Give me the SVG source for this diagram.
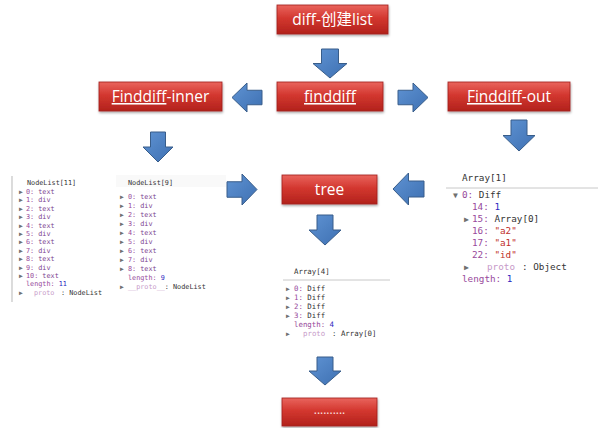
<svg xmlns="http://www.w3.org/2000/svg" width="600" height="428" viewBox="0 0 600 428">
<defs>
<linearGradient id="red" x1="0" y1="0" x2="0" y2="1">
<stop offset="0" stop-color="#e9645d"/>
<stop offset="0.45" stop-color="#d3372f"/>
<stop offset="1" stop-color="#b2221c"/>
</linearGradient>
<linearGradient id="blue" x1="0" y1="0" x2="1" y2="1">
<stop offset="0" stop-color="#5f93d3"/>
<stop offset="1" stop-color="#3e70b2"/>
</linearGradient>
<filter id="sh" x="-10%" y="-20%" width="120%" height="150%">
<feDropShadow dx="0.5" dy="1.5" stdDeviation="1.2" flood-color="#000" flood-opacity="0.35"/>
</filter>
</defs>
<style>
.box{fill:url(#red);stroke:#a11e19;stroke-width:0.8;filter:url(#sh)}
.lbl{font-family:"Open Sans","Noto Sans CJK SC",sans-serif;font-size:15.5px;fill:#fff;text-anchor:middle}
.arr{fill:url(#blue);stroke:#385d8a;stroke-width:1}
.mono{font-family:"DejaVu Sans Mono","Liberation Mono",monospace;fill:#333}
.s{font-size:6.8px}
.m{font-size:7.4px}
.l{font-size:9.3px}
.tri{fill:#707070}
.s .tri,.m .tri{font-size:6.5px}
.l .tri{font-size:8px}
.k{fill:#97499b}
.v{fill:#7d3f90}
.n{fill:#2a1fc0}
.str{fill:#c0302a}
.p{fill:#c79ac9}
.sep{stroke:#c8c8c8;stroke-width:1}
</style>
<rect width="600" height="428" fill="#fff"/>

<g id="connectors">
<path class="arr" d="M321.5,49 H338.5 V63.5 H347 L330,78 L313,63.5 H321.5 Z"/>
<path class="arr" d="M262,90.25 H247 V83 L232,97.5 L247,112 V104.75 H262 Z"/>
<path class="arr" d="M398,90.25 H413 V83 L428,97.5 L413,112 V104.75 H398 Z"/>
<path class="arr" d="M150.5,132 H165.5 V147 H173 L158,162 L143,147 H150.5 Z"/>
<path class="arr" d="M511,120 H527 V135.5 H535 L519,151 L503,135.5 H511 Z"/>
<path class="arr" d="M227,181.75 H242 V174 L257,189.5 L242,205 V197.25 H227 Z"/>
<path class="arr" d="M424,181 H408.5 V173 L393,189 L408.5,205 V197 H424 Z"/>
<path class="arr" d="M317,215 H333 V230 H341 L325,245 L309,230 H317 Z"/>
<path class="arr" d="M317,357 H333 V371 H341 L325,385 L309,371 H317 Z"/>
</g>

<g id="node-diff-create">
<rect class="box" x="277" y="5" width="111" height="29"/>
<text class="lbl" x="332.5" y="25">diff-创建list</text>
</g>
<g id="node-finddiff-inner">
<rect class="box" x="99" y="82" width="123" height="29"/>
<text class="lbl" x="160.5" y="102"><tspan text-decoration="underline">Finddiff</tspan>-inner</text>
</g>
<g id="node-finddiff">
<rect class="box" x="277" y="82" width="106" height="29"/>
<text class="lbl" x="330" y="102"><tspan text-decoration="underline">finddiff</tspan></text>
</g>
<g id="node-finddiff-out">
<rect class="box" x="448" y="82" width="122" height="29"/>
<text class="lbl" x="509" y="102"><tspan text-decoration="underline">Finddiff</tspan>-out</text>
</g>
<g id="node-tree">
<rect class="box" x="282" y="175" width="95" height="29"/>
<text class="lbl" x="329.5" y="195">tree</text>
</g>
<g id="node-more">
<rect class="box" x="282" y="398" width="95" height="28"/>
<text class="lbl" x="329.5" y="414" style="font-size:12px;fill:#fbe3e3">..........</text>
</g>

<g id="node-nodelist11" class="mono s">
<line x1="12" y1="176" x2="12" y2="302" stroke="#c4c4c4" stroke-width="1.2"/>
<text x="27" y="185">NodeList[11]</text>
<text x="19" y="194.0"><tspan class="tri">▶</tspan><tspan x="26" class="k">0:</tspan><tspan class="v"> text</tspan></text>
<text x="19" y="202.4"><tspan class="tri">▶</tspan><tspan x="26" class="k">1:</tspan><tspan class="v"> div</tspan></text>
<text x="19" y="210.8"><tspan class="tri">▶</tspan><tspan x="26" class="k">2:</tspan><tspan class="v"> text</tspan></text>
<text x="19" y="219.2"><tspan class="tri">▶</tspan><tspan x="26" class="k">3:</tspan><tspan class="v"> div</tspan></text>
<text x="19" y="227.6"><tspan class="tri">▶</tspan><tspan x="26" class="k">4:</tspan><tspan class="v"> text</tspan></text>
<text x="19" y="236.0"><tspan class="tri">▶</tspan><tspan x="26" class="k">5:</tspan><tspan class="v"> div</tspan></text>
<text x="19" y="244.4"><tspan class="tri">▶</tspan><tspan x="26" class="k">6:</tspan><tspan class="v"> text</tspan></text>
<text x="19" y="252.8"><tspan class="tri">▶</tspan><tspan x="26" class="k">7:</tspan><tspan class="v"> div</tspan></text>
<text x="19" y="261.2"><tspan class="tri">▶</tspan><tspan x="26" class="k">8:</tspan><tspan class="v"> text</tspan></text>
<text x="19" y="269.6"><tspan class="tri">▶</tspan><tspan x="26" class="k">9:</tspan><tspan class="v"> div</tspan></text>
<text x="19" y="278.0"><tspan class="tri">▶</tspan><tspan x="26" class="k">10:</tspan><tspan class="v"> text</tspan></text>
<text x="26" y="286.4"><tspan class="k">length:</tspan><tspan class="n"> 11</tspan></text>
<text x="19" y="294.8"><tspan class="tri">▶</tspan><tspan x="34" class="p">proto</tspan><tspan x="57"> : NodeList</tspan></text>
</g>

<g id="node-nodelist9" class="mono s">
<rect x="116" y="175" width="110" height="12" fill="#f9f9f9"/>
<text x="128" y="185">NodeList[9]</text>
<text x="120" y="199"><tspan class="tri">▶</tspan><tspan x="128" class="k">0:</tspan><tspan class="v"> text</tspan></text>
<text x="120" y="208"><tspan class="tri">▶</tspan><tspan x="128" class="k">1:</tspan><tspan class="v"> div</tspan></text>
<text x="120" y="217"><tspan class="tri">▶</tspan><tspan x="128" class="k">2:</tspan><tspan class="v"> text</tspan></text>
<text x="120" y="226"><tspan class="tri">▶</tspan><tspan x="128" class="k">3:</tspan><tspan class="v"> div</tspan></text>
<text x="120" y="235"><tspan class="tri">▶</tspan><tspan x="128" class="k">4:</tspan><tspan class="v"> text</tspan></text>
<text x="120" y="244"><tspan class="tri">▶</tspan><tspan x="128" class="k">5:</tspan><tspan class="v"> div</tspan></text>
<text x="120" y="253"><tspan class="tri">▶</tspan><tspan x="128" class="k">6:</tspan><tspan class="v"> text</tspan></text>
<text x="120" y="262"><tspan class="tri">▶</tspan><tspan x="128" class="k">7:</tspan><tspan class="v"> div</tspan></text>
<text x="120" y="271"><tspan class="tri">▶</tspan><tspan x="128" class="k">8:</tspan><tspan class="v"> text</tspan></text>
<text x="128" y="280"><tspan class="k">length:</tspan><tspan class="n"> 9</tspan></text>
<text x="120" y="289"><tspan class="tri">▶</tspan><tspan x="128" class="p">__proto__</tspan><tspan>: NodeList</tspan></text>
</g>

<g id="node-array1" class="mono l">
<text x="462" y="181">Array[1]</text>
<line class="sep" x1="446" y1="188" x2="598" y2="188"/>
<text x="453" y="198"><tspan class="tri">▼</tspan><tspan x="462" class="k">0:</tspan><tspan> Diff</tspan></text>
<text x="472" y="210"><tspan class="k">14:</tspan><tspan class="n"> 1</tspan></text>
<text x="464" y="222"><tspan class="tri">▶</tspan><tspan x="472" class="k">15:</tspan><tspan> Array[0]</tspan></text>
<text x="472" y="234"><tspan class="k">16:</tspan><tspan class="str"> "a2"</tspan></text>
<text x="472" y="246"><tspan class="k">17:</tspan><tspan class="str"> "a1"</tspan></text>
<text x="472" y="258"><tspan class="k">22:</tspan><tspan class="str"> "id"</tspan></text>
<text x="464" y="270"><tspan class="tri">▶</tspan><tspan x="487" class="p">proto</tspan><tspan x="522">: Object</tspan></text>
<text x="462" y="282"><tspan class="k">length:</tspan><tspan class="n"> 1</tspan></text>
</g>

<g id="node-array4" class="mono m">
<text x="294" y="274">Array[4]</text>
<line class="sep" x1="283" y1="280" x2="390" y2="280"/>
<text x="286" y="291"><tspan class="tri">▶</tspan><tspan x="294" class="k">0:</tspan><tspan> Diff</tspan></text>
<text x="286" y="300"><tspan class="tri">▶</tspan><tspan x="294" class="k">1:</tspan><tspan> Diff</tspan></text>
<text x="286" y="309"><tspan class="tri">▶</tspan><tspan x="294" class="k">2:</tspan><tspan> Diff</tspan></text>
<text x="286" y="318"><tspan class="tri">▶</tspan><tspan x="294" class="k">3:</tspan><tspan> Diff</tspan></text>
<text x="294" y="327"><tspan class="k">length:</tspan><tspan class="n"> 4</tspan></text>
<text x="286" y="336"><tspan class="tri">▶</tspan><tspan x="303" class="p">proto</tspan><tspan x="332">: Array[0]</tspan></text>
</g>
</svg>
